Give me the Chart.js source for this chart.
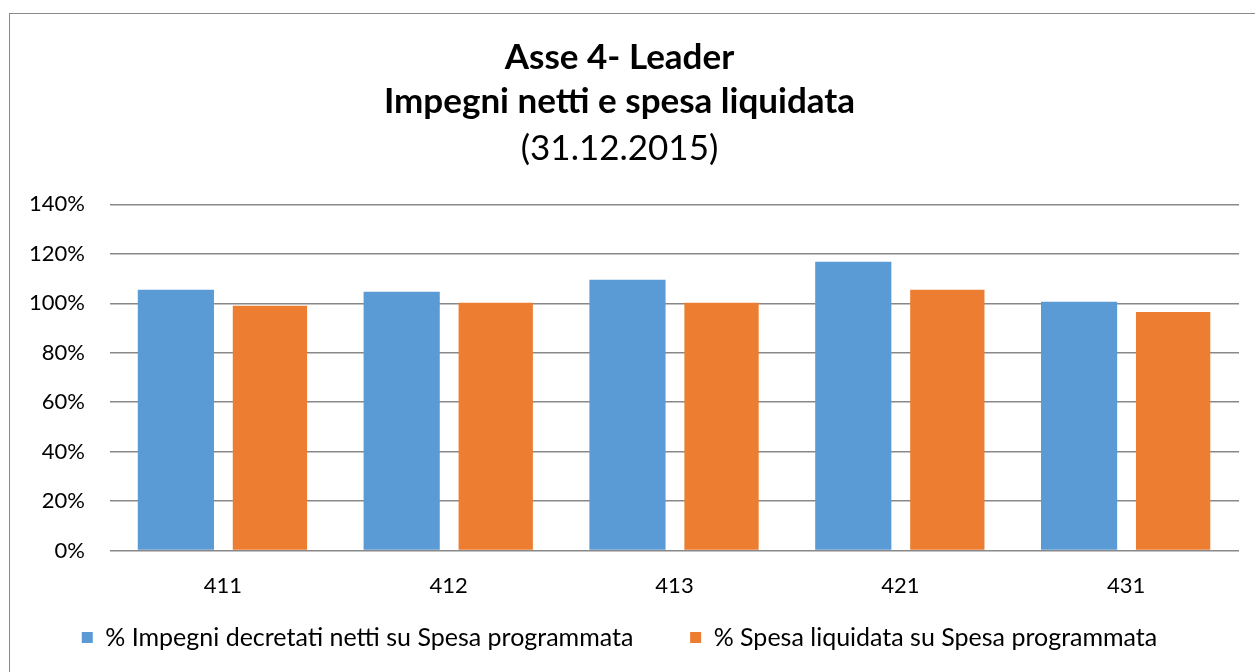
<!DOCTYPE html>
<html>
<head>
<meta charset="utf-8">
<script src="https://cdn.jsdelivr.net/npm/chart.js@4/dist/chart.umd.min.js"></script>
<style>
  html, body { margin: 0; padding: 0; background: #fff; }
  #wrap { position: relative; width: 1255px; height: 672px; overflow: hidden; }
  #frame { position: absolute; left: 9px; top: 13px; width: 1260px; height: 680px;
           border-left: 1.5px solid #8a8a8a; border-top: 1.5px solid #8a8a8a; }
  #myChart { position: absolute; left: 0; top: 0; }
</style>
</head>
<body>
<div id="wrap">
  <div id="frame"></div>
  <canvas id="myChart" width="1255" height="672"></canvas>
</div>
<script>
const categories = ['411', '412', '413', '421', '431'];
const impegniNetti = [105.5, 104.7, 109.5, 116.8, 100.6];
const spesaLiquidata = [99.0, 100.2, 100.2, 105.5, 96.5];
const seriesNames = [
    '% Impegni decretati netti su Spesa programmata',
    '% Spesa liquidata su Spesa programmata'
];
const yTicks = [0, 20, 40, 60, 80, 100, 120, 140];

const FONT = 'Lato, "Noto Sans", sans-serif';

document.addEventListener('DOMContentLoaded', function() {
    const ctx = document.getElementById('myChart').getContext('2d');
    new Chart(ctx, {
        type: 'bar',
        data: {
            labels: categories,
            datasets: [{
                label: seriesNames[0],
                data: impegniNetti,
                backgroundColor: '#5B9BD5',
                categoryPercentage: 0.833,
                barPercentage: 0.81
            }, {
                label: seriesNames[1],
                data: spesaLiquidata,
                backgroundColor: '#ED7D31',
                categoryPercentage: 0.833,
                barPercentage: 0.79
            }]
        },
        options: {
            responsive: false,
            animation: false,
            layout: {
                padding: { left: 0, right: 16, top: 35, bottom: 12 }
            },
            plugins: {
                title: {
                    display: true,
                    text: ['Asse 4- Leader', 'Impegni netti e spesa liquidata'],
                    color: '#000',
                    font: { family: FONT, size: 35, weight: 'bold', lineHeight: 1.28 },
                    padding: { top: 0, bottom: 0 }
                },
                subtitle: {
                    display: true,
                    text: '(31.12.2015)',
                    color: '#000',
                    font: { family: FONT, size: 35, weight: 'normal', lineHeight: 1.28 },
                    padding: { top: 2, bottom: 33 }
                },
                legend: {
                    position: 'bottom',
                    labels: {
                        color: '#000',
                        font: { family: FONT, size: 25 },
                        boxWidth: 11,
                        boxHeight: 11,
                        padding: 12,
                        // padding is shared with the vertical spacing, so widen the
                        // gap between the two entries with some trailing space
                        generateLabels: function(chart) {
                            const items = Chart.defaults.plugins.legend.labels.generateLabels(chart);
                            items[0].text += '\u00A0'.repeat(7);
                            return items;
                        }
                    }
                },
                tooltip: { enabled: false }
            },
            scales: {
                x: {
                    grid: { display: false },
                    border: { display: false },
                    ticks: {
                        color: '#000',
                        font: { family: FONT, size: 22 },
                        padding: 14
                    }
                },
                y: {
                    min: 0,
                    max: 140,
                    afterBuildTicks: function(scale) {
                        scale.ticks = yTicks.map(function(v) { return { value: v }; });
                    },
                    afterFit: function(scale) { scale.width = 110; },
                    grid: {
                        color: '#888',
                        lineWidth: 1.5,
                        drawTicks: false
                    },
                    border: { display: false },
                    ticks: {
                        color: '#000',
                        font: { family: FONT, size: 22 },
                        padding: 25,
                        callback: function(v) { return v + '%'; }
                    }
                }
            }
        }
    });
});
</script>
</body>
</html>
